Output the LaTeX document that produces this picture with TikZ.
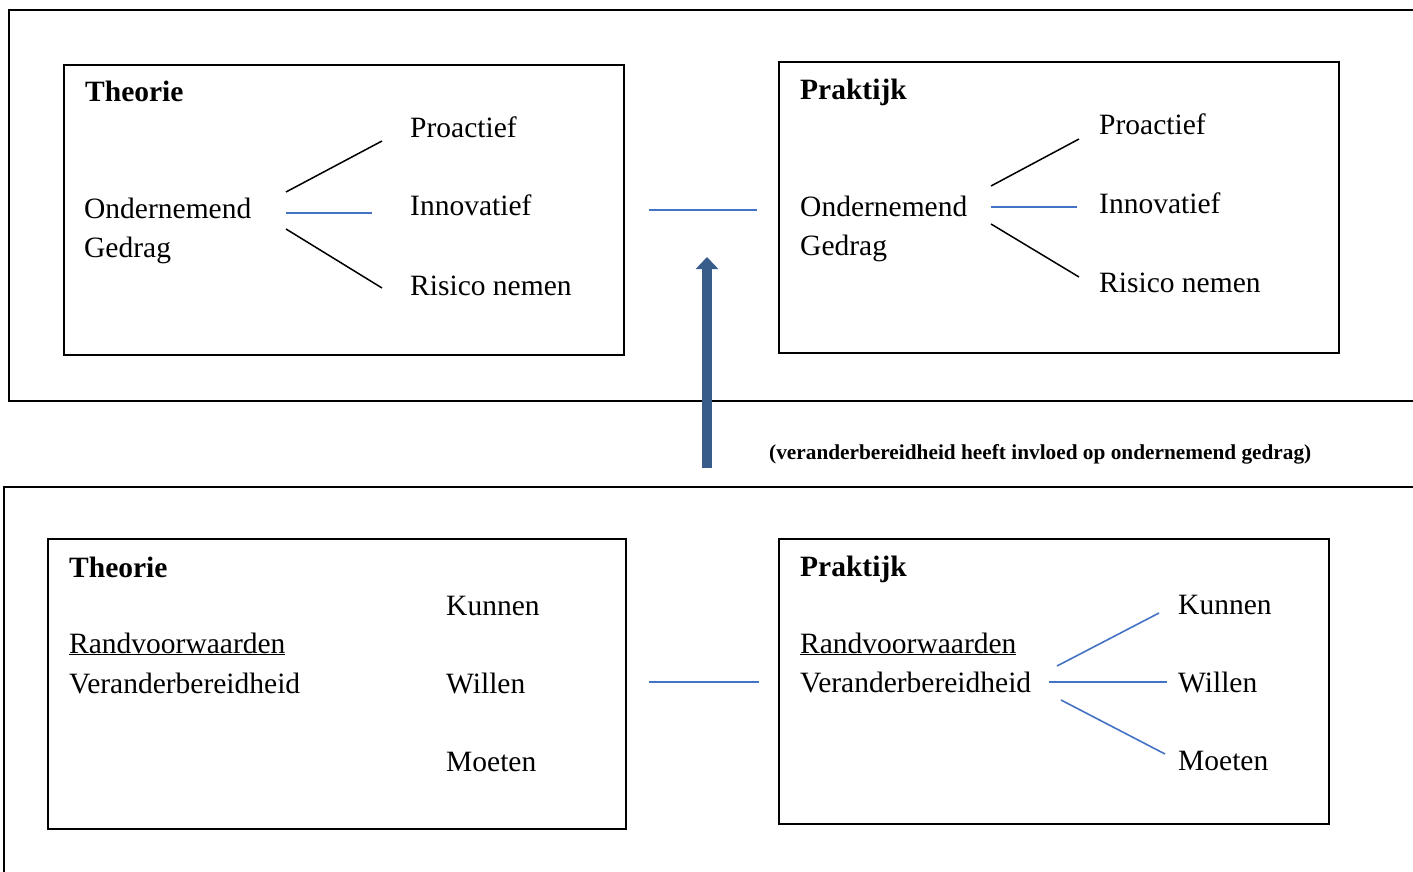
\documentclass[tikz,border=0pt]{standalone}
\usepackage{fontspec}
\setmainfont{Liberation Serif}
\usetikzlibrary{arrows.meta}
\definecolor{linkblue}{RGB}{68,114,196}
\definecolor{arrowblue}{RGB}{56,93,138}
\begin{document}
\begin{tikzpicture}[x=1pt,y=-1pt,
  frame/.style={draw=black,line width=2pt},
  box/.style={draw=black,line width=1.8pt},
  lbl/.style={anchor=base west,inner sep=0pt,font=\fontsize{29.5}{34}\selectfont},
  head/.style={lbl,font=\fontsize{29.5}{34}\selectfont\bfseries},
  fanblack/.style={draw=black,line width=1.5pt},
  fanblue/.style={draw=linkblue,line width=1.6pt}]
\useasboundingbox (0,0) rectangle (1413,872);
\clip (0,0) rectangle (1413,872);

% outer frames, running off the right and bottom edges
\draw[frame] (1430,10) -- (9,10) -- (9,401) -- (1430,401);
\draw[frame] (1430,487) -- (4,487) -- (4,890);

% inner boxes
\draw[box] (64,65) rectangle (624,355);
\draw[box] (779,62) rectangle (1339,353);
\draw[box] (48,539) rectangle (626,829);
\draw[box] (779,539) rectangle (1329,824);

% top left: theory of entrepreneurial behaviour
\node[head] (t1) at (85,102) {Theorie};
\node[lbl] (t1a) at (84,218) {Ondernemend};
\node[lbl] (t1b) at (84,257) {Gedrag};
\node[lbl] (t1p) at (410,138) {Proactief};
\node[lbl] (t1i) at (410,215) {Innovatief};
\node[lbl] (t1r) at (410,295) {Risico nemen};
\coordinate (a1) at (286,192); \coordinate (a2) at (382,141);
\coordinate (b1) at (286,213); \coordinate (b2) at (372,213);
\coordinate (c1) at (286,229); \coordinate (c2) at (382,288);
\draw[fanblack] (a1) -- (a2);
\draw[fanblue] (b1) -- (b2);
\draw[fanblack] (c1) -- (c2);

% top right: practice
\node[head] (p1) at (800,100) {Praktijk};
\node[lbl] (p1a) at (800,216) {Ondernemend};
\node[lbl] (p1b) at (800,255) {Gedrag};
\node[lbl] (p1p) at (1099,135) {Proactief};
\node[lbl] (p1i) at (1099,213) {Innovatief};
\node[lbl] (p1r) at (1099,292) {Risico nemen};
\coordinate (d1) at (991,186); \coordinate (d2) at (1079,139);
\coordinate (e1) at (991,207); \coordinate (e2) at (1077,207);
\coordinate (f1) at (991,224); \coordinate (f2) at (1079,277);
\draw[fanblack] (d1) -- (d2);
\draw[fanblue] (e1) -- (e2);
\draw[fanblack] (f1) -- (f2);

% links between theory and practice
\coordinate (m1) at (649,210); \coordinate (m2) at (757,210);
\draw[fanblue] (m1) -- (m2);
\coordinate (n1) at (649,682); \coordinate (n2) at (759,682);
\draw[fanblue] (n1) -- (n2);

% influence arrow
\coordinate (up0) at (707,468); \coordinate (up1) at (707,257);
\draw[arrowblue,line width=10pt,-{Triangle[width=22pt,length=12pt]}] (up0) -- (up1);
\node[anchor=base west,inner sep=0pt,font=\fontsize{21.3}{25}\selectfont\bfseries] (cap) at (769,459)
  {(veranderbereidheid heeft invloed op ondernemend gedrag)};

% bottom left: theory of readiness for change
\node[head] (t2) at (69,577) {Theorie};
\node[lbl] (t2r) at (69,653) {\underline{Randvoorwaarden}};
\node[lbl] (t2v) at (69,693) {Veranderbereidheid};
\node[lbl] (t2k) at (446,615) {Kunnen};
\node[lbl] (t2w) at (446,693) {Willen};
\node[lbl] (t2m) at (446,771) {Moeten};

% bottom right: practice
\node[head] (p2) at (800,576) {Praktijk};
\node[lbl] (p2r) at (800,653) {\underline{Randvoorwaarden}};
\node[lbl] (p2v) at (800,692) {Veranderbereidheid};
\node[lbl] (p2k) at (1178,614) {Kunnen};
\node[lbl] (p2w) at (1178,692) {Willen};
\node[lbl] (p2m) at (1178,770) {Moeten};
\coordinate (g1) at (1057,666); \coordinate (g2) at (1159,613);
\coordinate (h1) at (1049,682); \coordinate (h2) at (1167,682);
\coordinate (k1) at (1061,700); \coordinate (k2) at (1165,754);
\draw[fanblue] (g1) -- (g2);
\draw[fanblue] (h1) -- (h2);
\draw[fanblue] (k1) -- (k2);
\end{tikzpicture}
\end{document}
